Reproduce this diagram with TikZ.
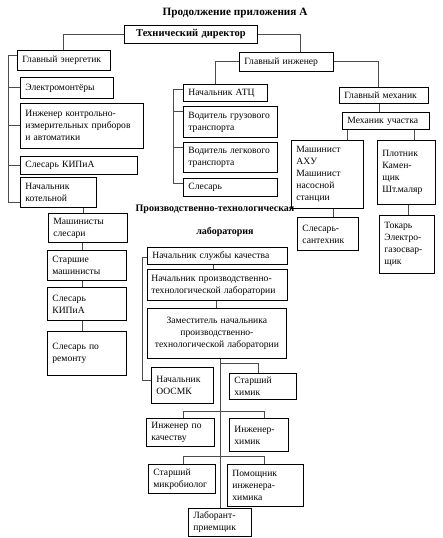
\documentclass[tikz,border=0pt]{standalone}
\usepackage{fontspec}
\setmainfont{Liberation Serif}
\usetikzlibrary{positioning}
\tikzset{
  orgbox/.style={rectangle, draw=black, line width=0.8pt, anchor=north west,
    inner xsep=5pt, inner ysep=1pt, align=left, font=\fontsize{9.6}{12}\selectfont},
  sz/.style 2 args={text width=#1pt-10pt, minimum height=#2pt},
  hdr/.style={font=\bfseries\fontsize{10}{12}\selectfont, inner sep=0pt},
  link/.style={draw=black!70, line width=1pt}
}

\begin{document}
\begin{tikzpicture}[x=1pt, y=-1pt]
  \useasboundingbox (0,0) rectangle (442,538);
  \node[hdr, font=\bfseries\fontsize{11.2}{13}\selectfont] (ttl) at (235,13) {Продолжение приложения А};
  \node[orgbox, sz={133}{18}, align=center, font=\bfseries\fontsize{10.5}{12}\selectfont] (dir) at (124,25) {Технический директор};

  \node[orgbox, sz={93}{20}] (glen) at (17,50) {Главный энергетик};
  \node[orgbox, sz={93}{21}] (elm) at (20,77) {Электромонтёры};
  \node[orgbox, sz={123}{45}] (ing) at (20,103) {Инженер контрольно-\\измерительных приборов\\и автоматики};
  \node[orgbox, sz={117}{18}] (kip1) at (20,156) {Слесарь КИПиА};
  \node[orgbox, sz={76}{30}] (kot) at (20,177) {Начальник\\котельной};
  \node[orgbox, sz={79}{29}] (mash) at (48,213) {Машинисты\\слесари};
  \node[orgbox, sz={79}{30}] (smash) at (47,250) {Старшие\\машинисты};
  \node[orgbox, sz={79}{33}] (kip2) at (47,287) {Слесарь\\КИПиА};
  \node[orgbox, sz={79}{44}] (rem) at (47,331) {Слесарь по\\ремонту};

  \node[orgbox, sz={94}{19}] (ging) at (239,52) {Главный инженер};
  \node[orgbox, sz={84}{17}] (atc) at (183,84) {Начальник АТЦ};
  \node[orgbox, sz={94}{31}] (vgr) at (183,106) {Водитель грузового\\транспорта};
  \node[orgbox, sz={94}{30}] (vleg) at (183,142) {Водитель легкового\\транспорта};
  \node[orgbox, sz={94}{18}] (sles) at (183,178) {Слесарь};

  \node[orgbox, sz={89}{16}] (gmech) at (339,87) {Главный механик};
  \node[orgbox, sz={87}{17}] (mu) at (342,112) {Механик участка};
  \node[orgbox, sz={72}{68}] (mahu) at (291,140) {Машинист\\АХУ\\Машинист\\насосной\\станции};
  \node[orgbox, sz={58}{64}] (plot) at (377,140) {Плотник\\Камен-\\щик\\Шт.маляр};
  \node[orgbox, sz={61}{33}] (sant) at (297,217) {Слесарь-\\сантехник};
  \node[orgbox, sz={55}{58}] (tok) at (379,215) {Токарь\\Электро-\\газосвар-\\щик};

  \node[hdr] (plab1) at (215,209) {Производственно-технологическая};
  \node[hdr] (plab2) at (225,232) {лаборатория};
  \node[orgbox, sz={140}{17}] (skach) at (147,247) {Начальник службы качества};
  \node[orgbox, sz={140}{31}, text width=132pt, inner xsep=4pt] (nptl) at (147,269) {Начальник производственно-\\технологической лаборатории};
  \node[orgbox, sz={139}{50}, text width=131pt, inner xsep=4pt, align=center] (zam) at (147,308) {Заместитель начальника\\производственно-\\технологической лаборатории};
  \node[orgbox, sz={62}{36}] (oosmk) at (151,367) {Начальник\\ООСМК};
  \node[orgbox, sz={67}{26}] (shim) at (229,373) {Старший\\химик};
  \node[orgbox, sz={68}{28}] (ikach) at (146,418) {Инженер по\\качеству};
  \node[orgbox, sz={59}{33}] (ihim) at (229,418) {Инженер-\\химик};
  \node[orgbox, sz={67}{29}] (smikr) at (148,464) {Старший\\микробиолог};
  \node[orgbox, sz={76}{42}] (pom) at (227,464) {Помощник\\инженера-\\химика};
  \node[orgbox, sz={63}{28}] (lab) at (188,508) {Лаборант-\\приемщик};

  \draw[link] (dir.west) -| (glen.north);
  \draw[link] (dir.east) -| ([xshift=14pt]ging.north);
  \draw[link] ([yshift=5pt]glen.west) -- ++(-9,0) coordinate (e0) |- ([yshift=-10pt]kot.west);
  \foreach \n in {elm,ing,kip1}
    \draw[link] (\n.west) -- (\n.west -| e0);
  \draw[link] ([xshift=-4pt]mash.north) -- ([xshift=-4pt]mash.north |- kot.south);
  \foreach \a/\b in {mash/smash,smash/kip2,kip2/rem}
    \draw[link] ([xshift=-4pt]\b.north) -- ([xshift=-4pt]\b.north |- \a.south);

  \draw[link] (ging.west) -| ([xshift=-10pt]atc.north);
  \draw[link] ([yshift=-5pt]atc.north west) -- ++(-10,0) coordinate (a0) |- ([yshift=-5pt]sles.north west);
  \foreach \n in {vgr,vleg}
    \draw[link] ([yshift=-5pt]\n.north west) -- ([yshift=-5pt]\n.north west -| a0);

  \draw[link] (ging.east) -| ([xshift=-5pt]gmech.north);
  \draw[link] ([xshift=-4pt]gmech.south) -- ([xshift=-4pt]gmech.south |- mu.north);
  \draw[link] ([xshift=5pt]mu.south west) -- ([xshift=5pt]mu.south west |- mahu.north);
  \draw[link] ([xshift=-15pt]mu.south east) -- ([xshift=-15pt]mu.south east |- plot.north);
  \draw[link] ([xshift=6pt]mahu.south) -- ([xshift=6pt]mahu.south |- sant.north);
  \draw[link] ([xshift=2pt]plot.south) -- ([xshift=2pt]plot.south |- tok.north);

  \draw[link] ([xshift=-4pt]nptl.north) -- ([xshift=-4pt]nptl.north |- skach.south);
  \draw[link] (zam.north) -- (zam.north |- nptl.south);
  \draw[link] ([yshift=-2pt]skach.west) -- ++(-5,0) |- ([yshift=5pt]oosmk.west);
  \draw[link] ([xshift=3.5pt]zam.south) -- ([xshift=3.5pt]zam.south |- lab.north);
  \draw[link] ([xshift=3.5pt,yshift=-5pt]zam.south) -| ([xshift=-4pt]shim.north);
  \draw[link] ([xshift=3pt]ikach.north) -- ++(0,-7) -| ([xshift=5.5pt]ihim.north);
  \draw[link] ([xshift=1.5pt]smikr.north) -- ++(0,-8) -| ([xshift=-1pt]pom.north);
\end{tikzpicture}
\end{document}
